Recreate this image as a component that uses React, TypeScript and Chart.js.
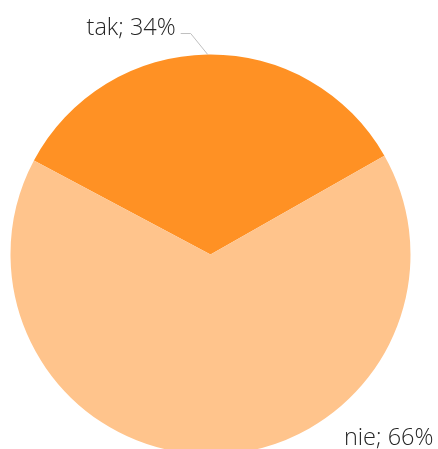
import React, { useEffect, useRef } from "react";
import { Chart, registerables } from "chart.js";

Chart.register(...registerables);

const categories = ["tak", "nie"];
const values = [34, 66];
const colors = ["#FF9124", "#FFC48C"];

const labelPlugin = {
  id: "pieLabels",
  afterDraw(chart: any) {
    const ctx = chart.ctx;
    const meta = chart.getDatasetMeta(0);
    const area = chart.chartArea;
    ctx.save();
    ctx.font = "300 23.5px 'Open Sans', 'DejaVu Sans', sans-serif";
    ctx.fillStyle = "#262626";
    ctx.textBaseline = "alphabetic";
    // tak label with leader line
    const a0: any = meta.data[0];
    const mid = (a0.startAngle + a0.endAngle) / 2;
    const ex = a0.x + Math.cos(mid) * a0.outerRadius;
    const ey = a0.y + Math.sin(mid) * a0.outerRadius;
    const bx = ex - 17;
    const by = ey - 21;
    ctx.strokeStyle = "#BFBFBF";
    ctx.lineWidth = 1;
    ctx.beginPath();
    ctx.moveTo(ex, ey);
    ctx.lineTo(bx, by);
    ctx.lineTo(bx - 10, by);
    ctx.stroke();
    ctx.textAlign = "right";
    ctx.fillText(`${categories[0]}; ${values[0]}%`, bx - 15, by + 1);
    // nie label
    ctx.textAlign = "right";
    ctx.fillText(`${categories[1]}; ${values[1]}%`, area.right + 23, area.bottom - 10);
    ctx.restore();
  },
};

export default function App() {
  const ref = useRef<HTMLCanvasElement>(null);
  useEffect(() => {
    document.body.style.margin = "0";
    const chart = new Chart(ref.current!, {
      type: "pie",
      data: {
        labels: categories,
        datasets: [
          {
            data: values,
            backgroundColor: colors,
            borderWidth: 0,
          },
        ],
      },
      options: {
        responsive: false,
        animation: false,
        rotation: -62,
        layout: { padding: { top: 54.5, bottom: 5.5, left: 10.5, right: 27.5 } },
        plugins: {
          legend: { display: false },
          tooltip: { enabled: false },
        },
      },
      plugins: [labelPlugin],
    });
    return () => chart.destroy();
  }, []);
  return (
    <div style={{ position: "fixed", left: 0, top: 0, width: 438, height: 449, overflow: "hidden", background: "#fff" }}>
      <canvas ref={ref} width={438} height={460} style={{ width: 438, height: 460, display: "block" }} />
    </div>
  );
}
